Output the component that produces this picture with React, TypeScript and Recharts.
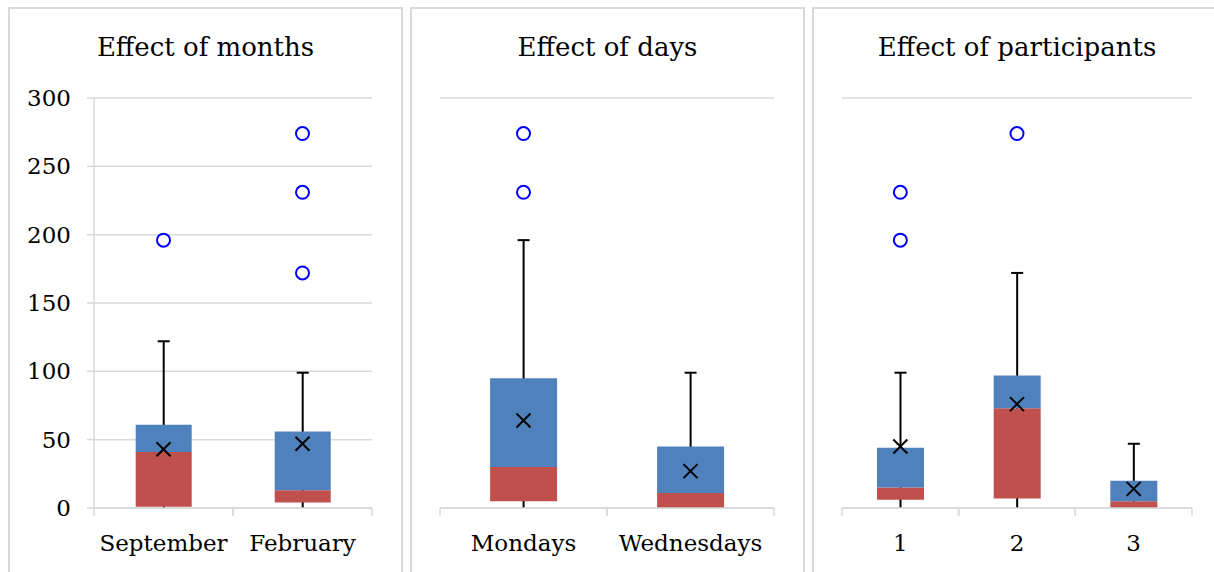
import { ComposedChart, Bar, Scatter, XAxis, YAxis, CartesianGrid } from "recharts";

/**
 * Three Excel-style box & whisker panels side by side (months / days / participants).
 * Box = stacked bars (transparent base to Q1, red Q1-median, blue median-Q3),
 * whisker = range bar on a hidden twin axis, mean = X marker, outliers = open circles.
 */

const GRID = "#d9d9d9";
const BLUE = "#4F81BD";
const RED = "#C0504D";
const FONT = "'DejaVu Serif', serif";
const LABEL_GAP = 27;

const Y_TICKS = [0, 50, 100, 150, 200, 250, 300];

// Effect of months
const monthCats = ["September", "February"];
const monthMin = [0, 0];
const monthQ1 = [1, 4];
const monthMedian = [41, 13];
const monthQ3 = [61, 56];
const monthMax = [122, 99];
const monthMean = [43, 47];
const monthOutliers = [[196], [274, 231, 172]];

// Effect of days
const dayCats = ["Mondays", "Wednesdays"];
const dayMin = [0, 0];
const dayQ1 = [5, 0];
const dayMedian = [30, 11];
const dayQ3 = [95, 45];
const dayMax = [196, 99];
const dayMean = [64, 27];
const dayOutliers = [[274, 231], []];

// Effect of participants
const partCats = ["1", "2", "3"];
const partMin = [0, 0, 0];
const partQ1 = [6, 7, 0];
const partMedian = [15, 73, 5];
const partQ3 = [44, 97, 20];
const partMax = [99, 172, 47];
const partMean = [45, 76, 14];
const partOutliers = [[231, 196], [274], []];

/** Vertical whisker line with a cap on top, drawn at the center of the range bar. */
function Whisker(props: any) {
  const { x = 0, y = 0, width = 0, height = 0 } = props;
  const cx = x + width / 2;
  const top = Math.min(y, y + height);
  const bottom = Math.max(y, y + height);
  return (
    <g stroke="#000" strokeWidth={2}>
      <line x1={cx} y1={top} x2={cx} y2={bottom} />
      <line x1={cx - 6} y1={top} x2={cx + 6} y2={top} />
    </g>
  );
}

function MeanMark(props: any) {
  const { cx, cy } = props;
  if (cx == null || cy == null || isNaN(cy)) return <g />;
  const s = 7;
  return (
    <g stroke="#000" strokeWidth={2}>
      <line x1={cx - s} y1={cy - s} x2={cx + s} y2={cy + s} />
      <line x1={cx - s} y1={cy + s} x2={cx + s} y2={cy - s} />
    </g>
  );
}

// outlier rows carry null where a category has fewer outliers
const outlierShape = (key: string) => (props: any) => {
  const { cx, cy, payload } = props;
  if (payload?.[key] == null || cy == null || isNaN(cy)) return <g />;
  return <circle cx={cx} cy={cy} r={6.5} fill="#fff" stroke="#0000FF" strokeWidth={2} />;
};

/** Category label plus Excel-style tick marks on both band edges. */
const categoryTick = (halfBand: number) => (props: any) => {
  const { x, y, payload } = props;
  const half = payload?.offset || halfBand;
  const axisY = y - LABEL_GAP;
  return (
    <g>
      <line x1={x - half} y1={axisY} x2={x - half} y2={axisY + 8} stroke={GRID} strokeWidth={1.5} />
      <line x1={x + half} y1={axisY} x2={x + half} y2={axisY + 8} stroke={GRID} strokeWidth={1.5} />
      <text x={x} y={y} dy="0.71em" textAnchor="middle" fill="#000" fontSize={23}>
        {payload?.value}
      </text>
    </g>
  );
};

type PanelProps = {
  title: string;
  left: number;
  width: number;
  plotLeft: number;
  plotRight: number;
  showY: boolean;
  cats: string[];
  mins: number[];
  q1s: number[];
  medians: number[];
  q3s: number[];
  maxs: number[];
  means: number[];
  outliers: number[][];
};

function BoxPanel(p: PanelProps) {
  const rows = p.cats.map((name, i) => ({
    name,
    base: p.q1s[i],
    lower: p.medians[i] - p.q1s[i],
    upper: p.q3s[i] - p.medians[i],
    range: [p.mins[i], p.maxs[i]],
    mean: p.means[i],
    o0: p.outliers[i][0] ?? null,
    o1: p.outliers[i][1] ?? null,
    o2: p.outliers[i][2] ?? null,
  }));
  const yWidth = p.showY ? p.plotLeft - p.left : 0;
  const marginLeft = p.showY ? 0 : p.plotLeft - p.left;
  const marginRight = p.left + p.width - p.plotRight;
  const halfBand = (p.plotRight - p.plotLeft) / p.cats.length / 2;

  return (
    <>
      <div
        style={{
          position: "absolute",
          left: p.left,
          top: 7,
          width: p.width,
          height: 600,
          border: `2px solid ${GRID}`,
          boxSizing: "border-box",
        }}
      />
      <div
        style={{
          position: "absolute",
          left: p.left,
          top: 32,
          width: p.width,
          textAlign: "center",
          fontSize: 26,
          lineHeight: "30px",
          color: "#000",
        }}
      >
        {p.title}
      </div>
      <div style={{ position: "absolute", left: p.left, top: 0 }}>
        <ComposedChart
          width={p.width}
          height={572}
          data={rows}
          barCategoryGap="30%"
          margin={{ top: 98, right: marginRight, bottom: 0, left: marginLeft }}
        >
          <CartesianGrid vertical={false} stroke={GRID} strokeWidth={1.5} />
          <XAxis
            xAxisId="cat"
            dataKey="name"
            interval={0}
            height={64}
            axisLine={{ stroke: GRID, strokeWidth: 1.5 }}
            tickLine={false}
            tickSize={0}
            tickMargin={LABEL_GAP}
            tick={categoryTick(halfBand)}
          />
          <XAxis xAxisId="w" dataKey="name" hide height={0} />
          <YAxis
            domain={[0, 300]}
            ticks={Y_TICKS}
            width={yWidth}
            tick={p.showY ? { fill: "#000", fontSize: 23 } : false}
            tickSize={p.showY ? 7 : 0}
            tickMargin={16}
            axisLine={p.showY ? { stroke: GRID, strokeWidth: 1.5 } : false}
            tickLine={p.showY ? { stroke: GRID, strokeWidth: 1.5 } : false}
          />
          <Bar xAxisId="w" dataKey="range" shape={<Whisker />} isAnimationActive={false} />
          <Bar xAxisId="cat" dataKey="base" stackId="box" fill="transparent" isAnimationActive={false} />
          <Bar xAxisId="cat" dataKey="lower" stackId="box" fill={RED} isAnimationActive={false} />
          <Bar xAxisId="cat" dataKey="upper" stackId="box" fill={BLUE} isAnimationActive={false} />
          <Scatter xAxisId="cat" dataKey="mean" shape={<MeanMark />} isAnimationActive={false} />
          <Scatter xAxisId="cat" dataKey="o0" shape={outlierShape("o0")} isAnimationActive={false} />
          <Scatter xAxisId="cat" dataKey="o1" shape={outlierShape("o1")} isAnimationActive={false} />
          <Scatter xAxisId="cat" dataKey="o2" shape={outlierShape("o2")} isAnimationActive={false} />
        </ComposedChart>
      </div>
    </>
  );
}

export default function App() {
  return (
    <div
      style={{
        position: "absolute",
        left: 0,
        top: 0,
        width: 1214,
        height: 572,
        overflow: "hidden",
        background: "#fff",
        fontFamily: FONT,
      }}
    >
      <BoxPanel
        title="Effect of months"
        left={8}
        width={395}
        plotLeft={94}
        plotRight={372}
        showY
        cats={monthCats}
        mins={monthMin}
        q1s={monthQ1}
        medians={monthMedian}
        q3s={monthQ3}
        maxs={monthMax}
        means={monthMean}
        outliers={monthOutliers}
      />
      <BoxPanel
        title="Effect of days"
        left={410}
        width={395}
        plotLeft={440}
        plotRight={774}
        showY={false}
        cats={dayCats}
        mins={dayMin}
        q1s={dayQ1}
        medians={dayMedian}
        q3s={dayQ3}
        maxs={dayMax}
        means={dayMean}
        outliers={dayOutliers}
      />
      <BoxPanel
        title="Effect of participants"
        left={812}
        width={410}
        plotLeft={842}
        plotRight={1192}
        showY={false}
        cats={partCats}
        mins={partMin}
        q1s={partQ1}
        medians={partMedian}
        q3s={partQ3}
        maxs={partMax}
        means={partMean}
        outliers={partOutliers}
      />
    </div>
  );
}
